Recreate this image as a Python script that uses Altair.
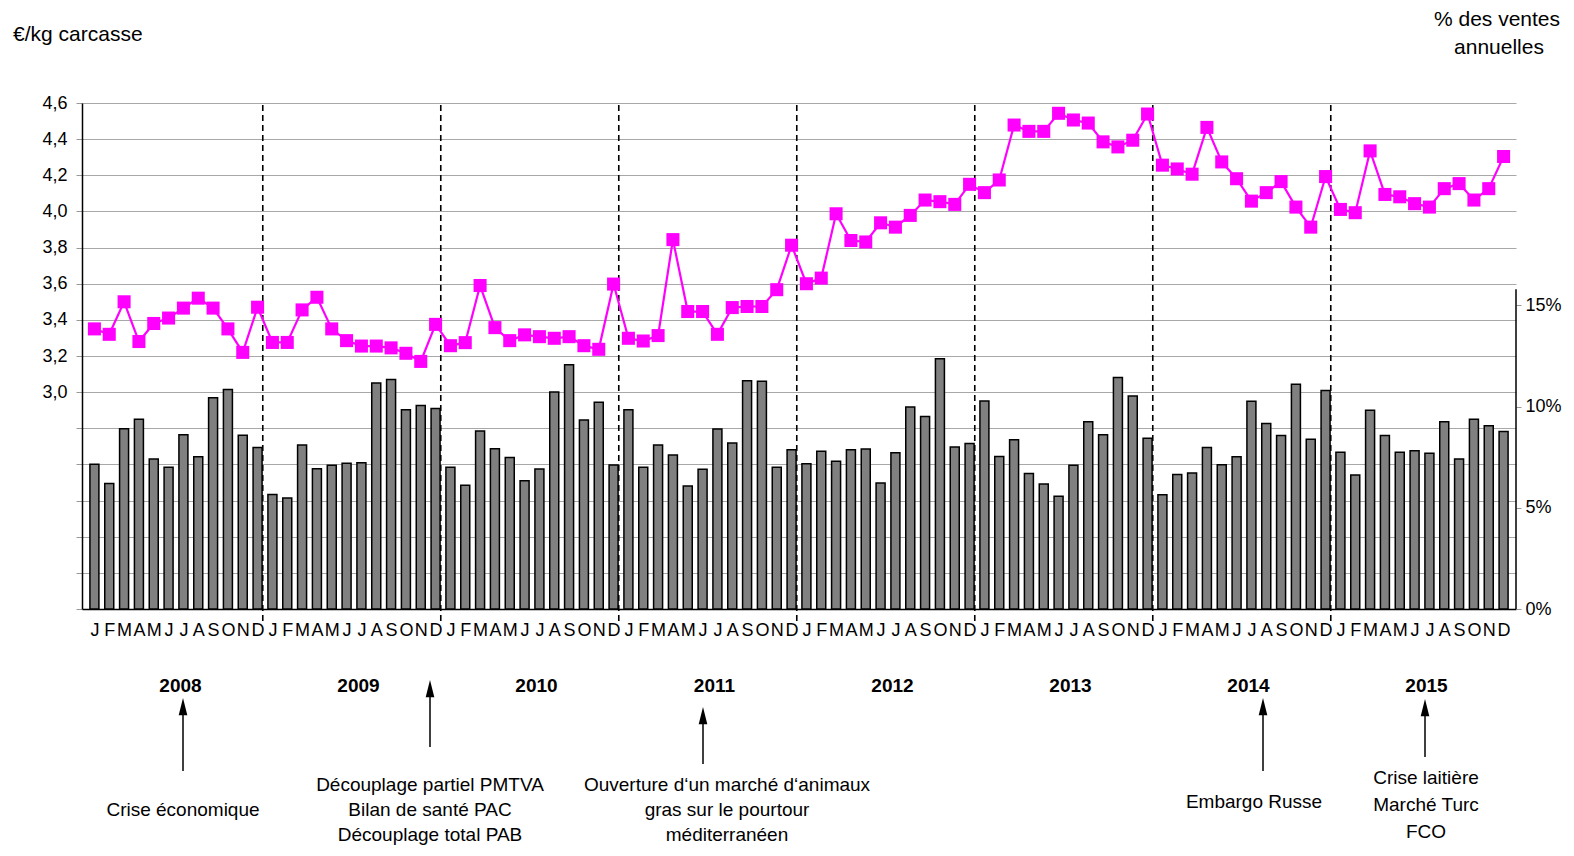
import altair as alt
import pandas as pd

# ---------------- données ----------------
mois = ["J", "F", "M", "A", "M", "J", "J", "A", "S", "O", "N", "D"]
annees = [2008, 2009, 2010, 2011, 2012, 2013, 2014, 2015]

# prix (€/kg carcasse), mois par mois 2008 -> 2015
prix = [
    3.35, 3.32, 3.50, 3.28, 3.38, 3.41, 3.465, 3.52, 3.465, 3.35, 3.22, 3.47,
    3.275, 3.275, 3.455, 3.525, 3.35, 3.285, 3.255, 3.255, 3.245, 3.215, 3.17, 3.375,
    3.257, 3.274, 3.59, 3.357, 3.285, 3.317, 3.307, 3.298, 3.307, 3.257, 3.237, 3.598,
    3.298, 3.283, 3.313, 3.844, 3.446, 3.446, 3.32, 3.468, 3.474, 3.474, 3.567, 3.813,
    3.60, 3.631, 3.987, 3.839, 3.831, 3.937, 3.913, 3.978, 4.063, 4.054, 4.039, 4.15,
    4.104, 4.174, 4.478, 4.443, 4.443, 4.543, 4.506, 4.489, 4.385, 4.357, 4.394, 4.539,
    4.256, 4.235, 4.206, 4.465, 4.274, 4.181, 4.057, 4.104, 4.165, 4.024, 3.913, 4.193,
    4.011, 3.993, 4.335, 4.094, 4.081, 4.043, 4.024, 4.126, 4.154, 4.063, 4.126, 4.304,
]

# % des ventes annuelles
ventes = [
    7.15, 6.2, 8.9, 9.38, 7.41, 7.0, 8.61, 7.52, 10.44, 10.85, 8.59, 7.98,
    5.66, 5.49, 8.1, 6.93, 7.1, 7.2, 7.23, 11.16, 11.34, 9.85, 10.05, 9.9,
    7.0, 6.11, 8.8, 7.92, 7.48, 6.34, 6.92, 10.72, 12.07, 9.34, 10.21, 7.11,
    9.84, 7.0, 8.1, 7.61, 6.08, 6.9, 8.89, 8.2, 11.28, 11.25, 7.0, 7.87,
    7.18, 7.8, 7.3, 7.87, 7.9, 6.23, 7.72, 9.98, 9.51, 12.37, 8.0, 8.18,
    10.28, 7.54, 8.36, 6.69, 6.18, 5.57, 7.1, 9.25, 8.61, 11.44, 10.52, 8.44,
    5.64, 6.64, 6.72, 7.98, 7.13, 7.52, 10.26, 9.16, 8.57, 11.1, 8.39, 10.79,
    7.74, 6.62, 9.82, 8.57, 7.74, 7.82, 7.69, 9.25, 7.41, 9.38, 9.05, 8.77,
]

evenements = [
    ["Crise économique"],
    ["Découplage partiel PMTVA", "Bilan de santé PAC", "Découplage total PAB"],
    ["Ouverture d\u2018un marché d\u2018animaux", "gras sur le pourtour", "méditerranéen"],
    ["Embargo Russe"],
    ["Crise laitière", "Marché Turc", "FCO"],
]

# ---------------- mise en forme ----------------
W, H = 1434, 506
FONT = "Liberation Sans, Arial, sans-serif"
MAGENTA = "#FF00FF"

n = len(prix)
df = pd.DataFrame({
    "pos": [k + 0.5 for k in range(n)],
    "prix": prix,
    "ventes": ventes,
})
df_annees = pd.DataFrame({"annee": [str(a) for a in annees],
                          "xa": [12 * k + 6.3 for k in range(len(annees))]})
df_sep = pd.DataFrame({"xs": [12 * k - 0.15 for k in range(1, len(annees))]})

xscale = alt.Scale(domain=[0, 96], nice=False, zero=False)
mois_expr = "[" + ",".join("'" + m + "'" for m in mois) + "][floor(datum.value) % 12]"

x_axis = alt.Axis(values=[k + 0.5 for k in range(n)], labelExpr=mois_expr, title=None,
                  grid=False, ticks=False, domain=True, domainColor="black", domainWidth=1.5,
                  labelFont=FONT, labelFontSize=18, labelColor="black", labelPadding=12,
                  labelOverlap=False, labelFlush=False, labelBound=False)

yv_scale = alt.Scale(domain=[0, 25], nice=False, zero=True)
yp_scale = alt.Scale(domain=[1.8, 4.6], nice=False, zero=False)

yv_axis = alt.Axis(orient="right", values=[0, 5, 10, 15], labelExpr="datum.value + '%'",
                   title=None, grid=False, domain=False, tickSize=5, tickColor="#999999",
                   labelFont=FONT, labelFontSize=18, labelColor="black", labelPadding=4)

yp_axis = alt.Axis(orient="left", values=[round(1.8 + 0.2 * k, 1) for k in range(15)],
                   labelExpr="datum.value >= 2.99 ? replace(format(datum.value, '.1f'), '.', ',') : ''",
                   title=None, grid=True, gridColor="#a8a8a8", gridWidth=1,
                   domain=True, domainColor="black", domainWidth=1.5,
                   tickSize=6, tickColor="#999999", labelFont=FONT, labelFontSize=18,
                   labelColor="black", labelPadding=9)

X = alt.X("pos:Q", scale=xscale, axis=x_axis)

bars = alt.Chart(df).mark_bar(size=9, color="#808080", stroke="black", strokeWidth=1.5).encode(
    x=X,
    y=alt.Y("ventes:Q", scale=yv_scale, axis=yv_axis),
    y2=alt.datum(0),
)
axe_droit = alt.Chart(pd.DataFrame({"v": [0], "v2": [15.8]})).mark_rule(
    color="black", strokeWidth=1.5).encode(
    x=alt.value(W),
    y=alt.Y("v:Q", scale=yv_scale, axis=yv_axis),
    y2="v2:Q",
)
couche_ventes = alt.layer(bars, axe_droit)

separateurs = alt.Chart(df_sep).mark_rule(color="black", strokeWidth=1.6, strokeDash=[6, 4]).encode(
    x=alt.X("xs:Q", scale=xscale, axis=x_axis),
    y=alt.value(2), y2=alt.value(H + 13),
)

ligne = alt.Chart(df).mark_line(color=MAGENTA, strokeWidth=2.2).encode(
    x=X,
    y=alt.Y("prix:Q", scale=yp_scale, axis=yp_axis),
)
carres = alt.Chart(df).mark_point(shape="square", filled=True, size=170, color=MAGENTA, opacity=1).encode(
    x=X,
    y=alt.Y("prix:Q", scale=yp_scale, axis=yp_axis),
)
couche_prix = alt.layer(ligne, carres)

txt_annees = alt.Chart(df_annees).mark_text(font=FONT, fontSize=19, fontWeight="bold",
                                            color="black", baseline="middle").encode(
    x=alt.X("xa:Q", scale=xscale, axis=x_axis),
    y=alt.value(583),
    text="annee:N",
)

couches_deco = []


def texte(t, px, py, size=19, align="center"):
    return alt.Chart(pd.DataFrame({"t": [t]})).mark_text(
        font=FONT, fontSize=size, align=align, baseline="middle", color="black"
    ).encode(x=alt.value(px), y=alt.value(py), text="t:N")


# annotations sous le graphique (centre x, centre y de la 1re ligne, interligne)
places = [(101, 707, 27), (348, 682, 25), (645, 682, 25), (1172, 699, 27), (1344, 675, 27)]
for lignes, (px, py, dy) in zip(evenements, places):
    for j, t in enumerate(lignes):
        couches_deco.append(texte(t, px, py + dy * j))

# flèches (x, pointe, bas)
fleches = [(101, 595, 668), (348, 577, 644), (621, 604, 661), (1181, 595, 668), (1343, 596, 654)]
for fx, tip, bas in fleches:
    one = alt.Chart(pd.DataFrame({"k": [0]}))
    couches_deco.append(one.mark_rule(color="black", strokeWidth=1.5).encode(
        x=alt.value(fx), y=alt.value(tip + 10), y2=alt.value(bas)))
    couches_deco.append(one.mark_point(shape="M0,-1L0.5,1L-0.5,1Z", size=300, filled=True,
                                       color="black", opacity=1, strokeWidth=0).encode(
        x=alt.value(fx), y=alt.value(tip + 8.66)))

# titres d'axes
couches_deco.append(texte("€/kg carcasse", -69, -68, size=21, align="left"))
couches_deco.append(texte("% des ventes", 1415, -83.5, size=21))
couches_deco.append(texte("annuelles", 1417, -55, size=21))

chart = alt.layer(couche_ventes, separateurs, couche_prix, txt_annees, *couches_deco).resolve_scale(
    y="independent"
).properties(
    width=W, height=H,
    autosize=alt.AutoSizeParams(type="none"),
    padding={"left": 74, "top": 95, "right": 50, "bottom": 239},
    background="white",
).configure_view(stroke=None)

chart.save("out.html", embed_options={"renderer": "svg", "actions": False})
